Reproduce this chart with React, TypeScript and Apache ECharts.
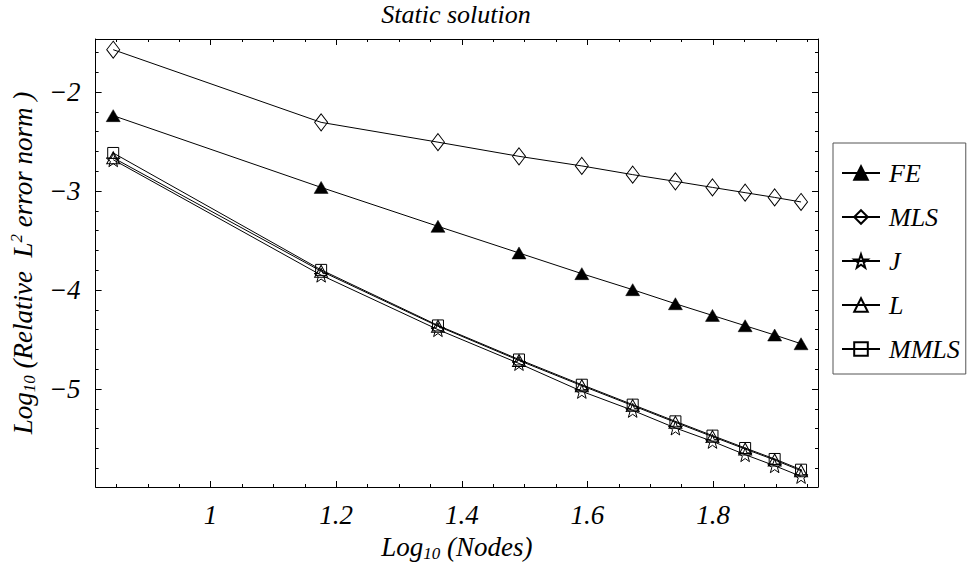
import React, { useEffect, useRef } from "react";
import * as echarts from "echarts";

// Log10 of node counts (x positions)
const logNodes = [0.845, 1.176, 1.362, 1.491, 1.591, 1.672, 1.74, 1.799, 1.851, 1.898, 1.94];
// Log10 of relative L2 error norm
const feErr = [-2.239, -2.964, -3.357, -3.626, -3.835, -3.997, -4.139, -4.257, -4.361, -4.455, -4.543];
const mlsErr = [-1.573, -2.307, -2.507, -2.65, -2.747, -2.835, -2.903, -2.964, -3.017, -3.065, -3.111];
const jErr = [-2.684, -3.85, -4.4, -4.742, -5.024, -5.216, -5.394, -5.529, -5.663, -5.775, -5.883];
const lErr = [-2.665, -3.81, -4.366, -4.712, -4.967, -5.168, -5.337, -5.481, -5.606, -5.717, -5.826];
const mmlsErr = [-2.616, -3.797, -4.358, -4.702, -4.957, -5.158, -5.327, -5.471, -5.596, -5.707, -5.815];

const seriesNames = ["FE", "MLS", "J", "L", "MMLS"];

const xMajorTicks = [1, 1.2, 1.4, 1.6, 1.8];
const xMinorTicks = [0.85, 0.9, 0.95, 1.05, 1.1, 1.15, 1.25, 1.3, 1.35, 1.45, 1.5, 1.55, 1.65, 1.7, 1.75, 1.85, 1.9, 1.95];
const yMajorTicks = [-5, -4, -3, -2];
const yMinorTicks = [-5.8, -5.6, -5.4, -5.2, -4.8, -4.6, -4.4, -4.2, -3.8, -3.6, -3.4, -3.2, -2.8, -2.6, -2.4, -2.2, -1.8, -1.6];

const X_MIN = 0.817;
const X_MAX = 1.967;
const Y_MIN = -5.99;
const Y_MAX = -1.465;

const FONT = "'Liberation Serif', 'Times New Roman', 'DejaVu Serif', serif";
const STAR = "path://M0,-10L2.35,-3.24L9.51,-3.09L3.8,1.24L5.88,8.09L0,4.1L-5.88,8.09L-3.8,1.24L-9.51,-3.09L-2.35,-3.24Z";

const pairs = (ys: number[]) => logNodes.map((x, i) => [x, ys[i]]);

export default function App() {
  const ref = useRef<HTMLDivElement>(null);
  useEffect(() => {
    document.body.style.margin = "0";
    if (!ref.current) return;
    const chart = echarts.init(ref.current, null, { renderer: "svg" });
    const tickLine = { color: "#000", width: 1 };
    const italic = { fontFamily: FONT, fontStyle: "italic" as const, color: "#000" };
    const xAxisBase = { type: "value" as const, min: X_MIN, max: X_MAX, splitLine: { show: false } };
    const yAxisBase = { type: "value" as const, min: Y_MIN, max: Y_MAX, splitLine: { show: false } };
    const openItem = { color: "rgba(255,255,255,0)", borderColor: "#000", borderWidth: 1 };
    const line = { color: "#000", width: 1 };
    const mk = (name: string, ys: number[], symbol: string, size: any, itemStyle: any, z: number) => ({
      name,
      type: "line",
      data: pairs(ys),
      symbol,
      symbolSize: size,
      showSymbol: true,
      lineStyle: line,
      itemStyle,
      color: "#000",
      z,
    });
    chart.setOption({
      animation: false,
      backgroundColor: "#fff",
      title: {
        text: "Static solution",
        left: 456,
        top: 1,
        padding: 0,
        textAlign: "center",
        textStyle: { ...italic, fontSize: 26, fontWeight: "normal" },
      },
      grid: { left: 93, right: 151, top: 39, bottom: 80, containLabel: false },
      legend: {
        orient: "vertical",
        left: 833,
        top: 143,
        padding: [17, 6, 12, 8],
        itemWidth: 38,
        itemHeight: 17,
        itemGap: 18,
        borderColor: "#555",
        borderWidth: 1,
        backgroundColor: "#fff",
        data: seriesNames,
        textStyle: { ...italic, fontSize: 26, lineHeight: 24, padding: [0, 0, 0, 4] },
      },
      xAxis: [
        {
          ...xAxisBase,
          position: "bottom",
          axisLine: { show: true, lineStyle: tickLine },
          axisTick: { show: true, inside: true, length: 6, customValues: xMajorTicks, lineStyle: tickLine },
          axisLabel: {
            show: true,
            customValues: xMajorTicks,
            margin: 14,
            ...italic,
            fontSize: 27,
            formatter: (v: number) => String(v),
          },
          name: "{a|Log}{s|10}{a| (Nodes)}",
          nameLocation: "middle",
          nameGap: 45,
          nameTextStyle: {
            ...italic,
            fontSize: 27,
            rich: {
              a: { ...italic, fontSize: 27, lineHeight: 30 },
              s: { ...italic, fontSize: 17, lineHeight: 15, verticalAlign: "bottom" },
            },
          },
        },
        {
          ...xAxisBase,
          position: "bottom",
          axisLine: { show: false },
          axisTick: { show: true, inside: true, length: 3, customValues: xMinorTicks, lineStyle: tickLine },
          axisLabel: { show: false },
        },
        {
          ...xAxisBase,
          position: "top",
          axisLine: { show: true, lineStyle: tickLine },
          axisTick: { show: true, inside: true, length: 6, customValues: xMajorTicks, lineStyle: tickLine },
          axisLabel: { show: false },
        },
        {
          ...xAxisBase,
          position: "top",
          axisLine: { show: false },
          axisTick: { show: true, inside: true, length: 3, customValues: xMinorTicks, lineStyle: tickLine },
          axisLabel: { show: false },
        },
      ],
      yAxis: [
        {
          ...yAxisBase,
          position: "left",
          axisLine: { show: true, lineStyle: tickLine },
          axisTick: { show: true, inside: true, length: 6, customValues: yMajorTicks, lineStyle: tickLine },
          axisLabel: {
            show: true,
            customValues: yMajorTicks,
            margin: 15,
            ...italic,
            fontSize: 27,
            formatter: (v: number) => "\u2212" + Math.abs(v),
          },
          name: "{a|Log}{s|10}{a| (Relative  L}{p|2}{a| error norm )}",
          nameLocation: "middle",
          nameRotate: 90,
          nameGap: 50,
          nameTextStyle: {
            ...italic,
            fontSize: 27,
            rich: {
              a: { ...italic, fontSize: 27, lineHeight: 30 },
              s: { ...italic, fontSize: 17, lineHeight: 15, verticalAlign: "bottom" },
              p: { ...italic, fontSize: 17, lineHeight: 15, verticalAlign: "top" },
            },
          },
        },
        {
          ...yAxisBase,
          position: "left",
          axisLine: { show: false },
          axisTick: { show: true, inside: true, length: 3, customValues: yMinorTicks, lineStyle: tickLine },
          axisLabel: { show: false },
        },
        {
          ...yAxisBase,
          position: "right",
          axisLine: { show: true, lineStyle: tickLine },
          axisTick: { show: true, inside: true, length: 6, customValues: yMajorTicks, lineStyle: tickLine },
          axisLabel: { show: false },
        },
        {
          ...yAxisBase,
          position: "right",
          axisLine: { show: false },
          axisTick: { show: true, inside: true, length: 3, customValues: yMinorTicks, lineStyle: tickLine },
          axisLabel: { show: false },
        },
      ],
      series: [
        mk("FE", feErr, "triangle", [14, 12], { color: "#000", borderColor: "#000", borderWidth: 0.5 }, 5),
        mk("MLS", mlsErr, "diamond", [13, 17], openItem, 4),
        mk("J", jErr, STAR, 14, openItem, 3),
        mk("L", lErr, "triangle", [13, 12], openItem, 3),
        mk("MMLS", mmlsErr, "rect", 11, openItem, 3),
      ],
    });
    return () => chart.dispose();
  }, []);
  return <div ref={ref} style={{ width: 969, height: 567 }} />;
}
